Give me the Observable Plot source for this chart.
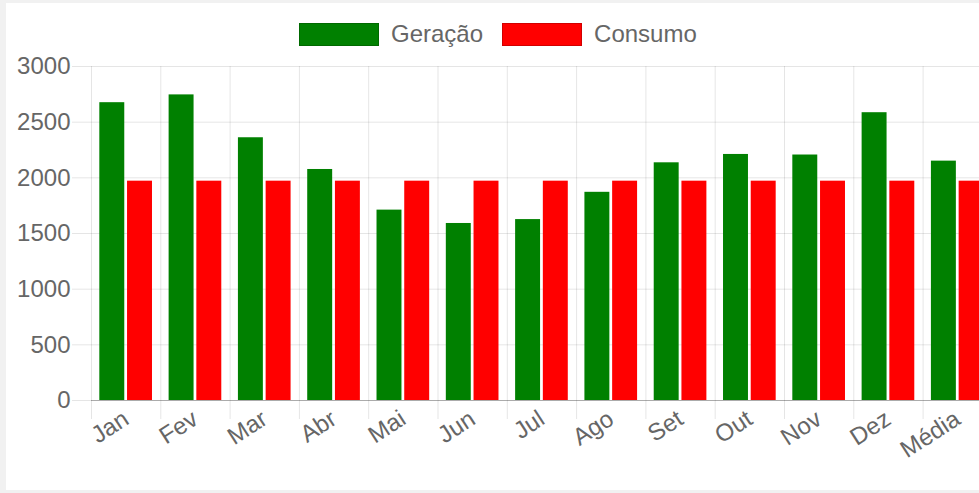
<!DOCTYPE html>
<html>
<head>
<meta charset="utf-8">
<script src="https://cdn.jsdelivr.net/npm/d3@7"></script>
<script src="https://cdn.jsdelivr.net/npm/@observablehq/plot@0.6"></script>
<style>
  html, body { margin: 0; padding: 0; overflow: hidden; background: #f1f1f1; width: 979px; height: 493px; }
  #card { position: absolute; left: 6px; top: 3px; width: 1100px; height: 487px; background: #fff; }
  #legend { position: absolute; left: 299px; top: 20px; display: flex; align-items: center;
            font-family: "Liberation Sans", Arial, sans-serif; font-size: 24px; color: #666; white-space: nowrap; }
  .sw { width: 80px; height: 23px; box-sizing: border-box; border: 1px solid rgba(0,0,0,0.18); }
  .lab { margin-left: 12px; margin-right: 19px; }
  #chart { position: absolute; left: 0; top: 50px; width: 1100px; }
  #chart svg { max-width: none !important; }
</style>
</head>
<body>
<div id="card"></div>
<div id="legend"></div>
<div id="chart"></div>
<script>
const months = ["Jan","Fev","Mar","Abr","Mai","Jun","Jul","Ago","Set","Out","Nov","Dez","Média"];
const seriesNames = ["Geração", "Consumo"];
const seriesColors = ["#008000", "#ff0000"];
const geracao = [2675, 2745, 2360, 2075, 1710, 1590, 1625, 1870, 2135, 2210, 2205, 2585, 2150];
const consumo = [1970, 1970, 1970, 1970, 1970, 1970, 1970, 1970, 1970, 1970, 1970, 1970, 1970];
const yTicks = [0, 500, 1000, 1500, 2000, 2500, 3000];

const data = [];
months.forEach((m, i) => {
  data.push({month: m, series: seriesNames[0], value: geracao[i]});
  data.push({month: m, series: seriesNames[1], value: consumo[i]});
});

// legend
const legend = document.getElementById("legend");
seriesNames.forEach((s, i) => {
  const sw = document.createElement("div");
  sw.className = "sw";
  sw.style.background = seriesColors[i];
  const lab = document.createElement("span");
  lab.className = "lab";
  lab.textContent = s;
  legend.appendChild(sw);
  legend.appendChild(lab);
});

const band = 69.3;
const marginLeft = 91;
const plotW = band * months.length;
const svgW = 1002;

const chart = Plot.plot({
  width: svgW,
  height: 440,
  marginLeft: marginLeft,
  marginRight: svgW - marginLeft - plotW,
  marginTop: 16,
  marginBottom: 90,
  style: {fontFamily: "Liberation Sans, Arial, sans-serif", fontSize: "24px", color: "#666", background: "transparent", overflow: "visible", maxWidth: "none"},
  fx: {domain: months, padding: 0, round: false, label: null, axis: null},
  x: {domain: seriesNames, paddingInner: 0.1, paddingOuter: 0.3, round: false, axis: null},
  y: {domain: [0, 3000], axis: null},
  color: {domain: seriesNames, range: seriesColors},
  marks: [
    Plot.gridY(yTicks, {stroke: "#000", strokeOpacity: 0.1}),
    Plot.frame({anchor: "left", stroke: "#000", strokeOpacity: 0.1, insetBottom: -18}),
    Plot.axisY(yTicks, {tickSize: 19, tickPadding: 2, stroke: "#000", strokeOpacity: 0.1, fill: "#666", fontSize: 24, label: null, tickFormat: d => String(d)}),
    Plot.barY(data, {fx: "month", x: "series", y: "value", fill: "series"}),
    Plot.ruleY([0], {stroke: "#000", strokeOpacity: 0.25}),
    Plot.axisFx({anchor: "bottom", tickRotate: -33, tickSize: 0, tickPadding: 16, label: null, fill: "#666", fontSize: 24})
  ]
});
document.getElementById("chart").appendChild(chart);
</script>
</body>
</html>
